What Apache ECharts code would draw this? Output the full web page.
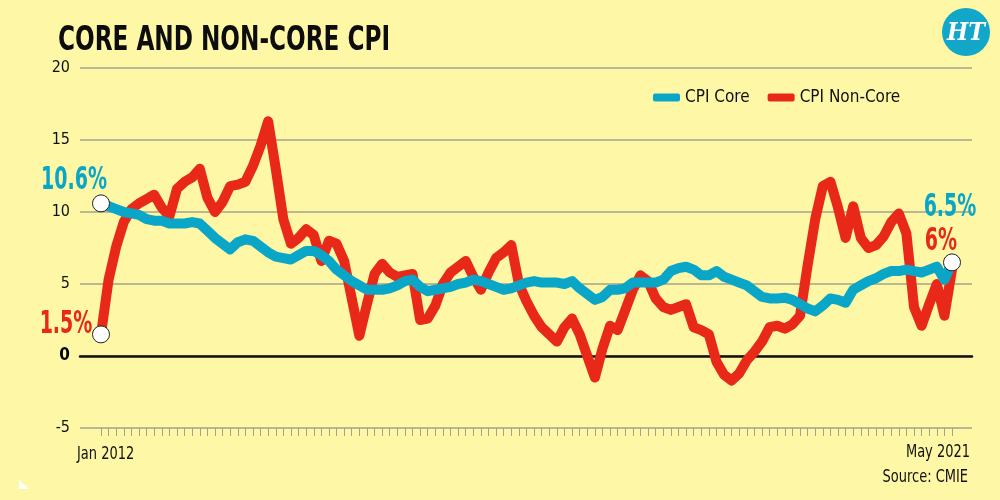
<!DOCTYPE html>
<html>
<head>
<meta charset="utf-8">
<script src="https://cdn.jsdelivr.net/npm/echarts@6/dist/echarts.min.js"></script>
<style>
html,body{margin:0;padding:0;background:#fef8a6;}
#chart{width:1000px;height:500px;}
</style>
</head>
<body>
<div id="chart"></div>
<script>
// ---- data (monthly, Jan 2012 .. May 2021) ----
const startYear = 2012;
const monthNames = ['Jan','Feb','Mar','Apr','May','Jun','Jul','Aug','Sep','Oct','Nov','Dec'];
const cpiCore = [
  10.6,10.4,10.2,10.0,9.9,9.8,9.5,9.4,9.4,9.2,9.2,9.2,
  9.3,9.2,8.7,8.2,7.8,7.4,7.9,8.1,8.0,7.6,7.2,6.9,
  6.8,6.7,7.0,7.3,7.3,7.0,6.6,6.0,5.6,5.2,4.9,4.6,
  4.6,4.6,4.7,4.9,5.2,5.3,4.8,4.5,4.6,4.7,4.8,5.0,
  5.1,5.3,5.2,5.0,4.8,4.6,4.7,4.9,5.1,5.2,5.1,5.1,
  5.1,5.0,5.2,4.7,4.3,3.9,4.1,4.6,4.6,4.7,5.1,5.1,
  5.1,5.1,5.3,5.9,6.1,6.2,6.0,5.6,5.6,5.9,5.5,5.3,
  5.1,4.9,4.5,4.1,4.0,4.0,4.05,3.9,3.6,3.3,3.1,3.5,
  4.0,3.9,3.7,4.6,4.9,5.2,5.4,5.7,5.9,5.9,6.0,5.9,
  5.8,6.0,6.2,5.3,6.5
];
const cpiNonCore = [
  1.5,5.3,7.6,9.3,10.2,10.6,10.9,11.2,10.3,9.7,11.6,12.1,
  12.4,13.0,11.0,10.0,10.7,11.8,11.9,12.1,13.2,14.6,16.3,13.0,
  9.5,7.8,8.2,8.8,8.4,6.6,8.0,7.8,6.6,4.0,1.4,3.6,
  5.7,6.4,5.8,5.5,5.6,5.7,2.5,2.6,3.5,5.0,5.8,6.2,
  6.6,5.5,4.6,5.8,6.8,7.2,7.7,5.0,3.8,2.8,2.0,1.5,
  1.0,2.0,2.6,1.5,0.0,-1.5,0.5,2.1,1.8,3.2,4.6,5.6,
  5.2,4.0,3.4,3.2,3.4,3.6,2.0,1.8,1.5,-0.4,-1.3,-1.7,
  -1.2,-0.3,0.3,1.0,2.0,2.1,1.9,2.2,2.8,6.3,9.5,11.8,
  12.1,10.3,8.2,10.4,8.2,7.5,7.7,8.3,9.3,9.9,8.5,3.4,
  2.1,3.6,5.0,2.8,6.0
];
const yTicks = [-5, 0, 5, 10, 15, 20];
const firstLabel = 'Jan 2012';
const lastLabel = 'May 2021';

const categories = [];
for (let i = 0; i < cpiCore.length; i++) {
  const m = i % 12, y = startYear + Math.floor(i / 12);
  categories.push(monthNames[m] + ' ' + y);
}
const last = cpiCore.length - 1;

const TEAL = '#0aa6c8';
const RED = '#e8291a';
const FONT = '"DejaVu Sans Condensed","Liberation Sans Narrow","Roboto",sans-serif';

const chart = echarts.init(document.getElementById('chart'));
chart.setOption({
  backgroundColor: '#fef8a6',
  animation: false,
  textStyle: { fontFamily: FONT },
  legend: {
    data: ['CPI Core', 'CPI Non-Core'],
    left: 648, top: 84,
    icon: 'roundRect',
    itemWidth: 27, itemHeight: 8,
    itemGap: 18,
    textStyle: { fontFamily: FONT, fontSize: 17, color: '#111' }
  },
  grid: [
    { left: 80, right: 28, top: 68, bottom: 72 },
    { left: 101, right: 48, top: 68, bottom: 72 }
  ],
  xAxis: [
    {
      gridIndex: 0, type: 'value', min: 0, max: 1,
      axisLine: { show: true, onZero: true, lineStyle: { color: '#111', width: 2.5 } },
      axisTick: { show: false }, axisLabel: { show: false }, splitLine: { show: false }
    },
    {
      gridIndex: 1, type: 'category', data: categories, boundaryGap: false,
      axisLine: { show: false, onZero: false },
      axisTick: { show: true, interval: 0, length: 8, lineStyle: { color: '#a3a38c', width: 1 } },
      axisLabel: { show: false }, splitLine: { show: false }
    }
  ],
  yAxis: [
    {
      gridIndex: 0, type: 'value', min: yTicks[0], max: yTicks[yTicks.length - 1], interval: 5,
      axisLine: { show: false }, axisTick: { show: false },
      axisLabel: {
        margin: 10, fontSize: 16, color: '#111', fontFamily: FONT,
        formatter: v => v === 0 ? '{b|0}' : String(v),
        rich: { b: { fontWeight: 'bold', fontSize: 17, fontFamily: FONT, color: '#000' } }
      },
      splitLine: { show: true, lineStyle: { color: '#a3a38c', width: 1.5 } }
    },
    {
      gridIndex: 1, type: 'value', min: yTicks[0], max: yTicks[yTicks.length - 1], interval: 5,
      show: false, splitLine: { show: false }
    }
  ],
  series: [
    {
      name: 'CPI Non-Core', type: 'line', xAxisIndex: 1, yAxisIndex: 1,
      data: cpiNonCore, showSymbol: false, smooth: false, z: 2,
      color: RED,
      lineStyle: { color: RED, width: 10, cap: 'round', join: 'round' }
    },
    {
      name: 'CPI Core', type: 'line', xAxisIndex: 1, yAxisIndex: 1,
      data: cpiCore, showSymbol: false, smooth: false, z: 3,
      color: TEAL,
      lineStyle: { color: TEAL, width: 10, cap: 'round', join: 'round' }
    },
    {
      type: 'scatter', xAxisIndex: 1, yAxisIndex: 1, z: 5,
      symbol: 'circle', symbolSize: 17, silent: true,
      itemStyle: { color: '#ffffff', borderColor: '#222', borderWidth: 1, opacity: 1 },
      data: [[0, cpiCore[0]], [0, cpiNonCore[0]], [last, cpiCore[last]]]
    }
  ]
});

// annotation texts placed from data coordinates (condensed via scaleX)
const px = (i, v) => chart.convertToPixel({ xAxisIndex: 1, yAxisIndex: 1 }, [i, v]);
const pC0 = px(0, cpiCore[0]);
const pN0 = px(0, cpiNonCore[0]);
const pCL = px(last, cpiCore[last]);
const pNL = px(last, cpiNonCore[last]);
const ann = (p, dx, dy, text, color) => ({
  type: 'text', x: p[0] + dx, y: p[1] + dy, scaleX: 0.66, z: 10,
  style: { text: text, font: 'bold 32px ' + FONT, fill: color, textAlign: 'center', textVerticalAlign: 'middle' }
});

chart.setOption({
  graphic: [
    { type: 'text', x: 58, y: 25, scaleX: 0.78, z: 10,
      style: { text: 'CORE AND NON-CORE CPI', font: 'bold 33px ' + FONT, fill: '#0d0d0d', textAlign: 'left', textVerticalAlign: 'top' } },
    ann(pC0, -27, -23, cpiCore[0] + '%', TEAL),
    ann(pN0, -35, -10, cpiNonCore[0] + '%', RED),
    ann(pCL, -2, -55, cpiCore[last] + '%', TEAL),
    ann(pNL, -11, -28, cpiNonCore[last] + '%', RED),
    { type: 'text', x: 77, y: 455, scaleX: 0.85,
      style: { text: firstLabel, font: '17px ' + FONT, fill: '#111', textAlign: 'left', textVerticalAlign: 'middle' } },
    { type: 'text', x: 970, y: 453, scaleX: 0.85,
      style: { text: lastLabel, font: '17px ' + FONT, fill: '#111', textAlign: 'right', textVerticalAlign: 'middle' } },
    { type: 'text', x: 968, y: 478, scaleX: 0.85,
      style: { text: 'Source: CMIE', font: '17px ' + FONT, fill: '#111', textAlign: 'right', textVerticalAlign: 'middle' } },
    { type: 'circle', shape: { cx: 966, cy: 32, r: 24 }, style: { fill: '#12a7c9' } },
    { type: 'text', x: 966, y: 33, scaleX: 0.9,
      style: { text: 'HT', font: 'bold italic 25px "DejaVu Serif",serif', fill: '#ffffff', textAlign: 'center', textVerticalAlign: 'middle' } },
    { type: 'polygon', shape: { points: [[19, 480], [19, 489], [29, 489]] }, style: { fill: '#ffffff' } }
  ]
});
</script>
</body>
</html>
